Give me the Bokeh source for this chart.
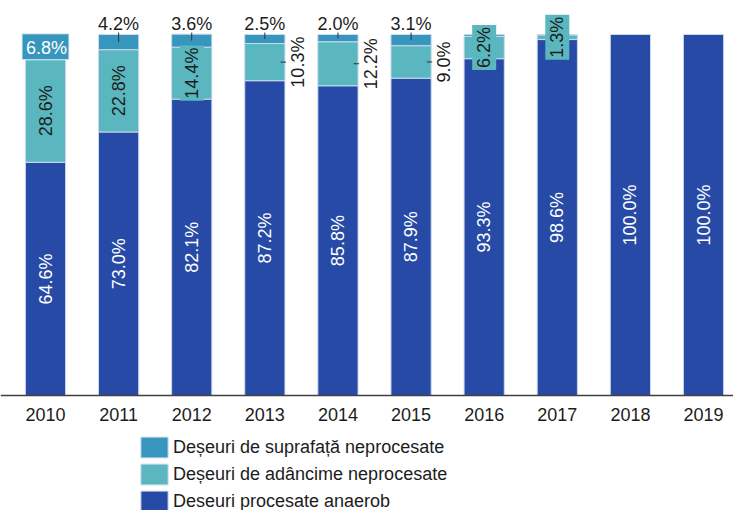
import numpy as np
from bokeh.plotting import figure
from bokeh.models import ColumnDataSource, Range1d, FixedTicker, Legend, LegendItem
from bokeh.core.properties import value
from bokeh.embed import file_html
from bokeh.resources import INLINE

# ---------------- data ----------------
years = [2010, 2011, 2012, 2013, 2014, 2015, 2016, 2017, 2018, 2019]
processed = [64.6, 73.0, 82.1, 87.2, 85.8, 87.9, 93.3, 98.6, 100.0, 100.0]
deep = [28.6, 22.8, 14.4, 10.3, 12.2, 9.0, 6.2, 1.3, 0.0, 0.0]
surface = [6.8, 4.2, 3.6, 2.5, 2.0, 3.1, 0.5, 0.1, 0.0, 0.0]
series_names = ["Deșeuri de suprafață neprocesate",
                "Deșeuri de adâncime neprocesate",
                "Deseuri procesate anaerob"]
# label placement per year
deep_label_mode = ["inside", "inside", "box", "outside", "outside", "outside", "box", "box", "none", "none"]
surface_label_mode = ["box", "above", "above", "above", "above", "above", "none", "none", "none", "none"]

# ---------------- style ----------------
C_SURF = "#3696bd"
C_DEEP = "#5ab7bf"
C_PROC = "#264aa5"
EDGE = "#cdd9ee"
TXT = "#1c1c1c"
FONT = "Liberation Sans"
BAR_W = 0.55

p = figure(width=733, height=510, output_backend="svg", toolbar_location=None,
           x_range=Range1d(2009.3845, 2019.41), y_range=Range1d(-31.86, 109.42),
           min_border=0, y_axis_location=None)
p.outline_line_color = None
p.xgrid.visible = False
p.ygrid.visible = False
p.background_fill_color = "white"

yrs = np.array(years, dtype=float)
proc = np.array(processed)
dp = np.array(deep)
sf = np.array(surface)
d_bot = proc
d_top = proc + dp
s_bot = d_top
s_top = d_top + sf

def seg_source(bot, top):
    m = (top - bot) > 0
    return ColumnDataSource(dict(x=yrs[m], bottom=bot[m], top=top[m]))

r_proc = p.vbar(x="x", bottom="bottom", top="top", width=BAR_W, source=seg_source(np.zeros_like(proc), proc),
                fill_color=C_PROC, line_color=EDGE, line_width=1)
r_deep = p.vbar(x="x", bottom="bottom", top="top", width=BAR_W, source=seg_source(d_bot, d_top),
                fill_color=C_DEEP, line_color=EDGE, line_width=1)
r_surf = p.vbar(x="x", bottom="bottom", top="top", width=BAR_W, source=seg_source(s_bot, s_top),
                fill_color=C_SURF, line_color=EDGE, line_width=1)

def fmt(v):
    return [f"{x:.1f}%" for x in v]

# bottom (processed) labels: white rotated
p.text(x=yrs, y=proc / 2, text=fmt(proc), angle=np.pi / 2, text_align="center", text_baseline="middle",
       text_color="white", text_font=value(FONT), text_font_size="18px")

# deep labels
mode = np.array(deep_label_mode)
m = mode == "inside"
p.text(x=yrs[m], y=(d_bot + dp / 2)[m], text=fmt(dp[m]), angle=np.pi / 2, text_align="center",
       text_baseline="middle", text_color=TXT, text_font=value(FONT), text_font_size="18px")
m = mode == "box"
p.text(x=yrs[m], y=(d_bot + dp / 2)[m], text=fmt(dp[m]), angle=np.pi / 2, text_align="center",
       text_baseline="middle", text_color=TXT, text_font=value(FONT), text_font_size="18px",
       background_fill_color=C_DEEP, padding=2)
m = mode == "outside"
p.segment(x0=yrs[m] + 0.215, y0=(d_bot + dp / 2)[m], x1=yrs[m] + 0.29, y1=(d_bot + dp / 2)[m],
          line_color="#333333", line_width=1)
p.text(x=yrs[m] + 0.45, y=(d_bot + dp / 2)[m], text=fmt(dp[m]), angle=np.pi / 2, text_align="center",
       text_baseline="middle", text_color=TXT, text_font=value(FONT), text_font_size="18px")

# surface labels
smode = np.array(surface_label_mode)
m = smode == "above"
p.segment(x0=yrs[m], y0=np.full(m.sum(), 100.55), x1=yrs[m], y1=(s_bot + sf / 2)[m],
          line_color="#333333", line_width=1)
p.text(x=yrs[m], y=np.full(m.sum(), 102.9), text=fmt(sf[m]), text_align="center",
       text_baseline="alphabetic", text_color=TXT, text_font=value(FONT), text_font_size="18px")
m = smode == "box"
p.text(x=yrs[m], y=(s_bot + sf / 2)[m], text=fmt(sf[m]), text_align="center",
       text_baseline="middle", text_color="white", text_font=value(FONT), text_font_size="18px",
       background_fill_color=C_SURF, padding=[4, 2, 4, 2], border_line_color="#e8f0f6", border_line_width=1)

# x axis, pinned at zero inside the frame
ax = p.xaxis[0]
ax.fixed_location = 0
ax.ticker = FixedTicker(ticks=years)
ax.axis_line_color = "#404040"
ax.axis_line_width = 1.5
ax.major_tick_line_color = None
ax.minor_tick_line_color = None
ax.major_label_standoff = 7
ax.major_label_text_font = FONT
ax.major_label_text_font_size = "18px"
ax.major_label_text_color = TXT

# legend under the axis
legend = Legend(items=[LegendItem(label=series_names[0], renderers=[r_surf]),
                       LegendItem(label=series_names[1], renderers=[r_deep]),
                       LegendItem(label=series_names[2], renderers=[r_proc])],
                location=(137, -4), orientation="vertical",
                glyph_width=34, glyph_height=26, label_height=26, spacing=1, padding=0, margin=0,
                label_standoff=2, label_text_font=FONT, label_text_font_size="18px",
                label_text_color=TXT, border_line_color=None, background_fill_alpha=0)
p.add_layout(legend)

open("out.html", "w").write(file_html(p, INLINE))
